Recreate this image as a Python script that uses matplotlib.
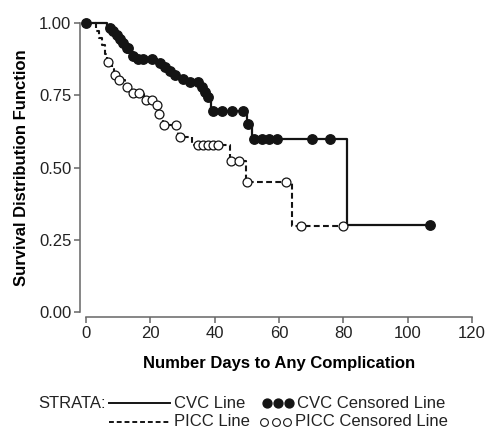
import numpy as np
import matplotlib
matplotlib.use('Agg')
import matplotlib.pyplot as plt
from matplotlib.lines import Line2D

plt.rcParams['font.family'] = ['Liberation Sans', 'DejaVu Sans']

# CVC line: event times and survival after each step
cvc_times = [6.5, 8, 9, 10, 11.5, 12.5, 13.5, 14.5, 16, 22, 24, 25.5, 27, 29, 32,
             35.5, 36.5, 37.5, 39, 50, 51.5, 81]
cvc_surv = [0.985, 0.972, 0.958, 0.944, 0.93, 0.915, 0.90, 0.885, 0.877, 0.862,
            0.848, 0.835, 0.822, 0.808, 0.797, 0.78, 0.763, 0.746, 0.695, 0.652,
            0.60, 0.30]
cvc_censor = [0, 7.5, 8.5, 9.5, 10.6, 11.6, 12.7, 13.1, 14.7, 16.3, 17.8, 20.4, 23,
              24.6, 26.1, 27.7, 30.2, 32.3, 34.9, 36, 37, 38, 39.6, 42.2, 45.3, 48.7,
              50.4, 52.2, 54.6, 57, 59.3, 70.2, 75.8, 106.9]

# PICC line
picc_times = [3, 4, 5, 6, 6.5, 8, 8.8, 10, 12, 14, 18, 21.5, 22.5, 23.8, 28.7, 33,
              44.8, 49.7, 64]
picc_surv = [0.975, 0.95, 0.925, 0.895, 0.866, 0.843, 0.821, 0.804, 0.778, 0.759,
             0.734, 0.718, 0.685, 0.647, 0.605, 0.578, 0.523, 0.451, 0.297]
picc_censor = [6.9, 9.0, 10.4, 12.7, 14.5, 16.6, 18.7, 20.4, 22, 22.8, 24.2, 28,
               29.2, 34.9, 36.5, 38, 39.6, 41.1, 45.1, 47.7, 50, 62.2, 66.8, 80]

x_ticks = [0, 20, 40, 60, 80, 100, 120]
y_ticks = [0.0, 0.25, 0.5, 0.75, 1.0]


def step_xy(times, surv, end):
    x = np.r_[0, times, end]
    y = np.r_[1, surv, surv[-1]]
    return x, y


def surv_at(times, surv, t):
    i = np.searchsorted(times, t, side='right') - 1
    return np.where(i < 0, 1.0, np.asarray(surv)[np.clip(i, 0, None)])


ink = '#141414'
txt = '#222222'
fig = plt.figure(figsize=(4.88, 4.32), dpi=100)
ax = fig.add_axes([86 / 488, 1 - 311.7 / 432, 386 / 488, 288.4 / 432])

x, y = step_xy(cvc_times, cvc_surv, max(cvc_censor))
ax.step(x, y, where='post', color=ink, lw=1.6, clip_on=False, zorder=2)
x, y = step_xy(picc_times, picc_surv, max(picc_censor))
ax.step(x, y, where='post', color=ink, lw=1.5, ls=(0, (2.8, 1.6)), clip_on=False, zorder=2)

ax.plot(cvc_censor, surv_at(cvc_times, cvc_surv, cvc_censor), 'o', ms=6.8,
        color=ink, mec=ink, clip_on=False, zorder=3)
ax.plot(picc_censor, surv_at(picc_times, picc_surv, picc_censor), 'o', ms=6.4,
        mfc='white', mec=ink, mew=0.9, clip_on=False, zorder=4)

ax.set_xlim(0, 120)
ax.set_ylim(0, 1)
ax.set_xticks(x_ticks)
ax.set_yticks(y_ticks)
ax.set_yticklabels([f'{v:.2f}' for v in y_ticks])
for s in ['top', 'right']:
    ax.spines[s].set_visible(False)
ax.spines['left'].set_position(('outward', 4.3))
ax.spines['bottom'].set_position(('outward', 4.0))
for s in ['left', 'bottom']:
    ax.spines[s].set_color('#666666')
    ax.spines[s].set_linewidth(1.1)
ax.tick_params(colors='#666666', width=1.1, length=4.3, labelsize=12, labelcolor=txt, pad=2)

ax.set_xlabel('Number Days to Any Complication', fontsize=12, fontweight='bold', labelpad=11)
ax.set_ylabel('Survival Distribution Function', fontsize=12, fontweight='bold', labelpad=7)

# legend drawn by hand, SAS style
r1, r2 = 1 - 403 / 432, 1 - 422 / 432
fs = 12
fig.text(106 / 488, r1, 'STRATA:', fontsize=fs, va='center', ha='right', color=txt)
fig.add_artist(Line2D([109 / 488, 170 / 488], [r1, r1], color=ink, lw=1.4))
fig.add_artist(Line2D([109 / 488, 170 / 488], [r2, r2], color=ink, lw=1.4, ls=(0, (2.5, 1.5))))
fig.text(174 / 488, r1, 'CVC Line', fontsize=fs, va='center', color=txt)
fig.text(174 / 488, r2, 'PICC Line', fontsize=fs, va='center', color=txt)
fig.add_artist(Line2D(np.array([267, 278, 289]) / 488, [r1] * 3, ls='none', marker='o',
                      ms=6.4, color=ink))
fig.add_artist(Line2D(np.array([264, 275.5, 287]) / 488, [r2] * 3, ls='none', marker='o',
                      ms=5.6, mfc='white', mec=ink, mew=0.8))
fig.text(297 / 488, r1, 'CVC Censored Line', fontsize=fs, va='center', color=txt)
fig.text(295 / 488, r2, 'PICC Censored Line', fontsize=fs, va='center', color=txt)

fig.savefig('out.png', dpi=100)
